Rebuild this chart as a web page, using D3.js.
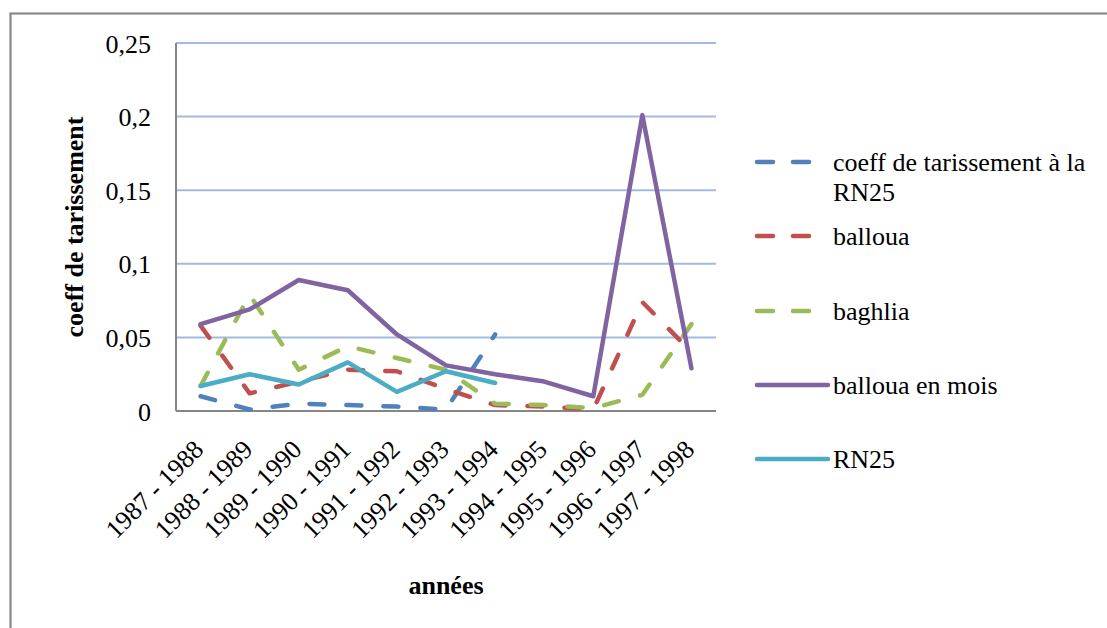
<!DOCTYPE html>
<html>
<head>
<meta charset="utf-8">
<script src="https://cdn.jsdelivr.net/npm/d3@7"></script>
<style>
  html, body { margin: 0; padding: 0; background: #fff; }
  svg { display: block; }
  svg text { font-family: "Liberation Serif", "Times New Roman", serif !important; fill: #000; }
</style>
</head>
<body>
<div id="chart"></div>
<script>
// ---------- data ----------
const categories = ["1987 - 1988", "1988 - 1989", "1989 - 1990", "1990 - 1991", "1991 - 1992",
  "1992 - 1993", "1993 - 1994", "1994 - 1995", "1995 - 1996", "1996 - 1997", "1997 - 1998"];

const coeffRN25   = [0.010, 0.001, 0.005, 0.004, 0.003, 0.001, 0.052, null, null, null, null];
const balloua     = [0.058, 0.012, 0.020, 0.028, 0.027, 0.015, 0.004, 0.003, 0.001, 0.074, 0.040];
const baghlia     = [0.017, 0.079, 0.028, 0.044, 0.036, 0.028, 0.005, 0.004, 0.002, 0.011, 0.059];
const ballouaMois = [0.059, 0.069, 0.089, 0.082, 0.052, 0.031, 0.025, 0.020, 0.010, 0.201, 0.029];
const rn25        = [0.017, 0.025, 0.018, 0.033, 0.013, 0.027, 0.019, null, null, null, null];

const seriesNames = ["coeff de tarissement à la RN25", "balloua", "baghlia", "balloua en mois", "RN25"];
const legendLines = [["coeff de tarissement à la", "RN25"], ["balloua"], ["baghlia"], ["balloua en mois"], ["RN25"]];

const yTickValues = [0, 0.05, 0.1, 0.15, 0.2, 0.25];
const yTickLabels = ["0", "0,05", "0,1", "0,15", "0,2", "0,25"];

const xTitle = "années";
const yTitle = "coeff de tarissement";

// ---------- layout / styles ----------
const W = 1107, H = 628;
const plot = { left: 176, right: 716, top: 43, bottom: 411 };
const colors = ["#4F81BD", "#C0504D", "#9BBB59", "#8064A2", "#4BACC6"];
const dashed = [true, true, true, false, false];
const seriesData = [coeffRN25, balloua, baghlia, ballouaMois, rn25];
const FS = 26;
const FONT = "Liberation Serif";

const svg = d3.select("#chart").append("svg")
  .attr("width", W).attr("height", H)
  .attr("font-family", FONT);

svg.append("rect").attr("width", W).attr("height", H).attr("fill", "#fff");

// chart frame
svg.append("rect")
  .attr("x", 10.5).attr("y", 13.5)
  .attr("width", 1200).attr("height", 700)
  .attr("fill", "none").attr("stroke", "#8A8A8A").attr("stroke-width", 2.2);

const x = d3.scalePoint().domain(categories).range([plot.left, plot.right]).padding(0.5);
const y = d3.scaleLinear().domain([0, 0.25]).range([plot.bottom, plot.top]);

// gridlines
svg.append("g")
  .selectAll("line")
  .data(yTickValues.filter(v => v > 0))
  .join("line")
  .attr("x1", plot.left).attr("x2", plot.right)
  .attr("y1", d => y(d)).attr("y2", d => y(d))
  .attr("stroke", "#A2BAE2").attr("stroke-width", 2);

// y axis labels
const yAxis = d3.axisLeft(y)
  .tickValues(yTickValues)
  .tickFormat((d, i) => yTickLabels[i])
  .tickSize(0).tickPadding(25);
const gy = svg.append("g").attr("transform", `translate(${plot.left},0)`).call(yAxis);
gy.attr("font-family", FONT);
gy.select(".domain").remove();
gy.selectAll("text")
  .attr("font-family", FONT)
  .attr("font-size", FS)
  .attr("dy", "0.35em");

// x axis labels
const xAxis = d3.axisBottom(x).tickSize(0);
const gx = svg.append("g").attr("transform", `translate(0,${plot.bottom})`).call(xAxis);
gx.attr("font-family", FONT);
gx.select(".domain").remove();
gx.selectAll("text")
  .attr("font-family", FONT)
  .attr("font-size", FS)
  .attr("x", 0).attr("y", 0).attr("dy", 0)
  .attr("text-anchor", "end")
  .attr("transform", "translate(4,40) rotate(-45)");

// axis lines
svg.append("line")
  .attr("x1", plot.left).attr("x2", plot.left)
  .attr("y1", plot.top).attr("y2", plot.bottom)
  .attr("stroke", "#868686").attr("stroke-width", 2);
svg.append("line")
  .attr("x1", plot.left).attr("x2", plot.right)
  .attr("y1", plot.bottom).attr("y2", plot.bottom)
  .attr("stroke", "#868686").attr("stroke-width", 2);

// series lines
const line = d3.line()
  .defined(d => d.v !== null)
  .x(d => x(d.c))
  .y(d => y(d.v));

seriesData.forEach((vals, i) => {
  const pts = categories.map((c, j) => ({ c, v: vals[j] }));
  svg.append("path")
    .datum(pts)
    .attr("d", line)
    .attr("fill", "none")
    .attr("stroke", colors[i])
    .attr("stroke-width", 4.5)
    .attr("stroke-linejoin", "round")
    .attr("stroke-linecap", "round")
    .attr("stroke-dasharray", dashed[i] ? "15,22" : null);
});

// legend
const legendY = [162, 236, 311, 385, 459];
const lg = svg.append("g");
seriesNames.forEach((name, i) => {
  const gy0 = legendY[i];
  lg.append("line")
    .attr("x1", 757).attr("x2", dashed[i] ? 813 : 828)
    .attr("y1", gy0).attr("y2", gy0)
    .attr("stroke", colors[i]).attr("stroke-width", 4.5)
    .attr("stroke-linecap", "round")
    .attr("stroke-dasharray", dashed[i] ? "16,20" : null);
  const t = lg.append("text")
    .attr("x", 833).attr("y", gy0 + 8.5)
    .attr("font-family", FONT)
    .attr("font-size", FS);
  legendLines[i].forEach((ln, k) => {
    t.append("tspan").attr("x", 833).attr("dy", k === 0 ? 0 : 30.5).text(ln);
  });
});

// axis titles
svg.append("text")
  .attr("x", (plot.left + plot.right) / 2).attr("y", 594)
  .attr("text-anchor", "middle")
  .attr("font-family", FONT)
  .attr("font-weight", "bold")
  .attr("font-size", FS)
  .text(xTitle);

svg.append("text")
  .attr("transform", `translate(83,${(plot.top + plot.bottom) / 2}) rotate(-90)`)
  .attr("text-anchor", "middle")
  .attr("font-family", FONT)
  .attr("font-weight", "bold")
  .attr("font-size", FS)
  .text(yTitle);
</script>
</body>
</html>
